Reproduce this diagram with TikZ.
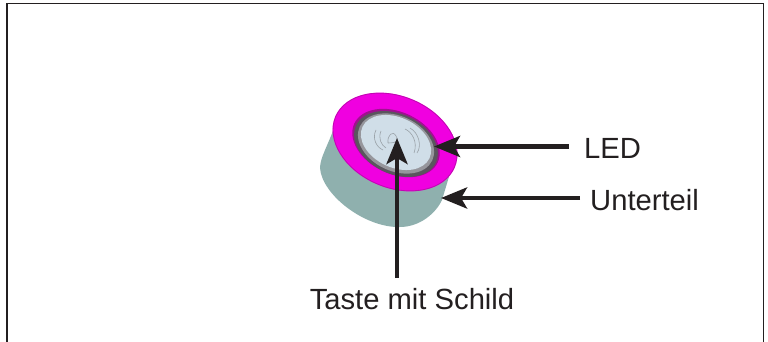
\documentclass[tikz,border=0pt]{standalone}
\usepackage{fontspec}
\setmainfont{Liberation Sans}
\usetikzlibrary{arrows.meta}
\definecolor{frameC}{HTML}{231F20}
\definecolor{bodyC}{HTML}{8FB0AE}
\definecolor{pinkC}{HTML}{F000E0}
\definecolor{pinkD}{HTML}{A01090}
\definecolor{ringC}{HTML}{5A565E}
\definecolor{ringL}{HTML}{96969C}
\definecolor{btnC}{HTML}{D0DEE8}
\definecolor{iconC}{HTML}{9AA2A8}
\tikzset{
  lbl/.style={font=\fontsize{29.2}{32}\selectfont,text=frameC,inner sep=0pt},
  arr/.style={draw=frameC,line width=4.6pt,-{Stealth[length=26pt,width=21pt,inset=6pt]}},
  wave/.style={draw=iconC,line width=.6pt}
}
\begin{document}
\begin{tikzpicture}[x=1pt,y=-1pt]
\useasboundingbox (0,0) rectangle (768,342);
\draw[frameC,line width=1.2pt] (7,342) -- (7,3.5) -- (763.5,3.5) -- (763.5,342);
% body
\fill[bodyC] (334,128) .. controls (328,145) and (320,158) .. (320,168)
  .. controls (322,195) and (365,228) .. (400,227)
  .. controls (420,227) and (436,213) .. (442,200)
  -- (457,150) -- (400,140) -- cycle;
% top
\fill[pinkC] (395,142) ellipse[x radius=65,y radius=46,rotate=-23];
\draw[pinkD,line width=.8pt,opacity=.6] (395,142) ellipse[x radius=64.5,y radius=45.5,rotate=-23];
\fill[pinkD] (396,143) ellipse[x radius=46,y radius=31,rotate=-25];
\fill[ringC] (396,144) ellipse[x radius=44,y radius=30,rotate=-25];
\fill[ringL] (396,143.5) ellipse[x radius=40,y radius=27.5,rotate=-25];
\fill[btnC] (396,142.5) ellipse[x radius=37,y radius=25,rotate=-25];
% icon
\draw[wave] (376,130) .. controls (372,138) and (376,147) .. (383,150);
\draw[wave] (381,131) .. controls (378,138) and (381,145) .. (386,148);
\draw[wave] (405,129) .. controls (412,132) and (418,142) .. (414,153);
\draw[wave] (410,128) .. controls (419,133) and (422,146) .. (417,153);
\draw[wave] (388,143) .. controls (387,135) and (393,130) .. (396,136) .. controls (399,140) and (398,143) .. (388,143);
% labels
\node[lbl,anchor=west] (led) at (584,148) {LED};
\node[lbl,anchor=west] (unt) at (590,200) {Unterteil};
\node[lbl] (tas) at (412,299) {Taste mit Schild};
\coordinate (ledT) at (434,146.5);
\coordinate (untT) at (441,198);
\coordinate (tasT) at (397,138);
\coordinate (ledS) at (569,146.5);
\coordinate (untS) at (580,198);
\coordinate (tasS) at (397,278);
\draw[arr] (ledS) -- (ledT);
\draw[arr] (untS) -- (untT);
\draw[arr] (tasS) -- (tasT);
\end{tikzpicture}
\end{document}
